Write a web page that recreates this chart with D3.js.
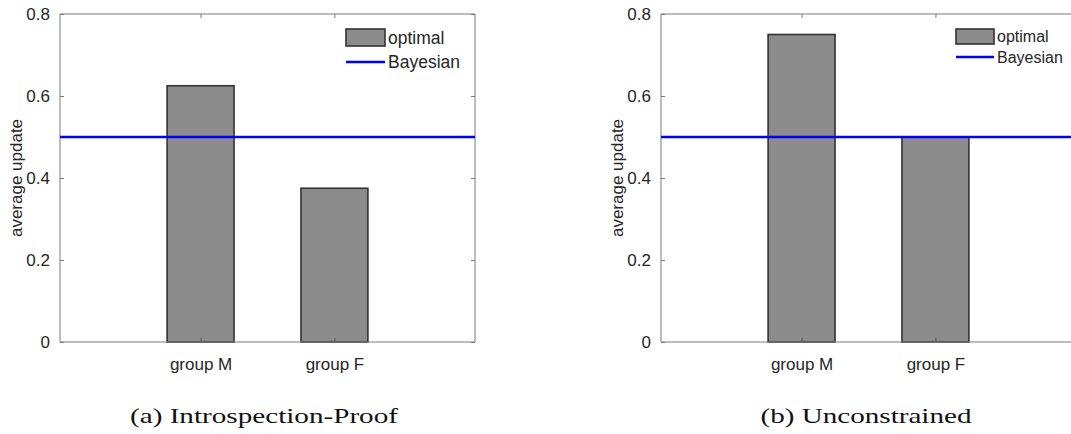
<!DOCTYPE html>
<html lang="en">
<head>
<meta charset="UTF-8" />
<title>Average update: optimal vs Bayesian</title>
<script src="https://d3js.org/d3.v7.min.js"></script>
<style>
  html, body { margin: 0; padding: 0; background: #fff; }
  svg { display: block; }
  .tick-label { font-family: "Liberation Sans", Arial, sans-serif; fill: #262626; }
  .caption { font-family: "Liberation Serif", "DejaVu Serif", serif; fill: #111; }
</style>
</head>
<body>
<svg width="1071" height="434"></svg>
<script>
// data
const categories = ["group M", "group F"];
const optimalIntro = [0.625, 0.375];
const optimalFree = [0.75, 0.5];
const bayesian = 0.5;
const yTicks = [0, 0.2, 0.4, 0.6, 0.8];
const captions = ["(a) Introspection-Proof", "(b) Unconstrained"];

const W = 1071, H = 434;
const svg = d3.select("svg");

const panels = [
  { dx: 0, values: optimalIntro, caption: captions[0], capW: 268, capX: 264,
    legend: { x: 346, y: 29, w: 39, h: 17, lineY: 62, fs: 17.5 }, boxRight: true },
  { dx: 601, values: optimalFree, caption: captions[1], capW: 211, capX: 866,
    legend: { x: 956, y: 29, w: 38, h: 15, lineY: 57, fs: 16 }, boxRight: false }
];

const axTop = 14, axBottom = 342, axL = 60, axR = 475;
const y = d3.scaleLinear().domain([0, 0.8]).range([axBottom, axTop]);

panels.forEach(p => {
  const x = d3.scaleLinear().domain([-0.05, 3.05]).range([axL + p.dx, axR + p.dx]);
  const g = svg.append("g");
  const axColor = "#7a7a7a";

  // bars
  g.selectAll("rect.bar")
    .data(p.values)
    .join("rect")
    .attr("class", "bar")
    .attr("x", (d, i) => x(i + 1 - 0.25))
    .attr("width", x(0.5) - x(0))
    .attr("y", d => y(d))
    .attr("height", d => y(0) - y(d))
    .attr("fill", "#8c8c8c")
    .attr("stroke", "#333")
    .attr("stroke-width", 1.6);

  // box
  const xl = x.range()[0], xr = Math.min(x.range()[1], W + 5);
  g.append("line").attr("x1", xl).attr("x2", xr).attr("y1", axTop).attr("y2", axTop)
    .attr("stroke", axColor);
  g.append("line").attr("x1", xl).attr("x2", xr).attr("y1", axBottom).attr("y2", axBottom)
    .attr("stroke", axColor);
  g.append("line").attr("x1", xl).attr("x2", xl).attr("y1", axTop).attr("y2", axBottom)
    .attr("stroke", axColor);
  if (p.boxRight) {
    g.append("line").attr("x1", xr).attr("x2", xr).attr("y1", axTop).attr("y2", axBottom)
      .attr("stroke", axColor);
  }

  // y axis ticks and labels
  const yAxis = d3.axisLeft(y).tickValues(yTicks).tickSizeInner(-4).tickSizeOuter(0)
    .tickPadding(10).tickFormat(d => d === 0 ? "0" : d3.format(".1f")(d));
  const ya = g.append("g").attr("transform", `translate(${xl},0)`).call(yAxis);
  ya.select(".domain").remove();
  ya.selectAll("line").attr("stroke", axColor);
  ya.selectAll("text").attr("class", "tick-label").style("font-size", "17px")
    .attr("fill", "#262626");
  if (p.boxRight) {
    const yr = g.append("g").attr("transform", `translate(${xr},0)`)
      .call(d3.axisRight(y).tickValues(yTicks).tickSizeInner(-4).tickSizeOuter(0).tickFormat(""));
    yr.select(".domain").remove();
    yr.selectAll("line").attr("stroke", axColor);
  }

  // x axis ticks and labels
  const xAxis = d3.axisBottom(x).tickValues([1, 2]).tickSizeInner(-4).tickSizeOuter(0)
    .tickPadding(16).tickFormat((d, i) => categories[i]);
  const xa = g.append("g").attr("transform", `translate(0,${axBottom})`).call(xAxis);
  xa.select(".domain").remove();
  xa.selectAll("line").attr("stroke", "#555");
  xa.selectAll("text").attr("class", "tick-label").style("font-size", "17px").attr("fill", "#262626");
  const xt = g.append("g").attr("transform", `translate(0,${axTop})`)
    .call(d3.axisTop(x).tickValues([1, 2]).tickSizeInner(-4).tickSizeOuter(0).tickFormat(""));
  xt.select(".domain").remove();
  xt.selectAll("line").attr("stroke", axColor);

  // Bayesian reference line
  g.append("line")
    .attr("x1", xl).attr("x2", xr)
    .attr("y1", y(bayesian)).attr("y2", y(bayesian))
    .attr("stroke", "#0000ff").attr("stroke-width", 2.6);

  // y label
  g.append("text")
    .attr("class", "tick-label")
    .attr("transform", `translate(${xl - 38},${(axTop + axBottom) / 2}) rotate(-90)`)
    .attr("text-anchor", "middle")
    .style("font-size", "17px")
    .text("average update");

  // legend
  const L = p.legend;
  g.append("rect").attr("x", L.x).attr("y", L.y).attr("width", L.w).attr("height", L.h)
    .attr("fill", "#8c8c8c").attr("stroke", "#333").attr("stroke-width", 1.6);
  g.append("text").attr("class", "tick-label").attr("x", L.x + L.w + 3).attr("y", L.y + L.h / 2)
    .attr("dy", "0.35em").style("font-size", L.fs + "px").text("optimal");
  g.append("line").attr("x1", L.x).attr("x2", L.x + L.w).attr("y1", L.lineY).attr("y2", L.lineY)
    .attr("stroke", "#0000ff").attr("stroke-width", 2.6);
  g.append("text").attr("class", "tick-label").attr("x", L.x + L.w + 3).attr("y", L.lineY)
    .attr("dy", "0.35em").style("font-size", L.fs + "px").text("Bayesian");

  // caption
  g.append("text")
    .attr("class", "caption")
    .attr("x", p.capX).attr("y", 423)
    .attr("text-anchor", "middle")
    .attr("textLength", p.capW)
    .attr("lengthAdjust", "spacingAndGlyphs")
    .style("font-size", "21px")
    .text(p.caption);
});
</script>
</body>
</html>
